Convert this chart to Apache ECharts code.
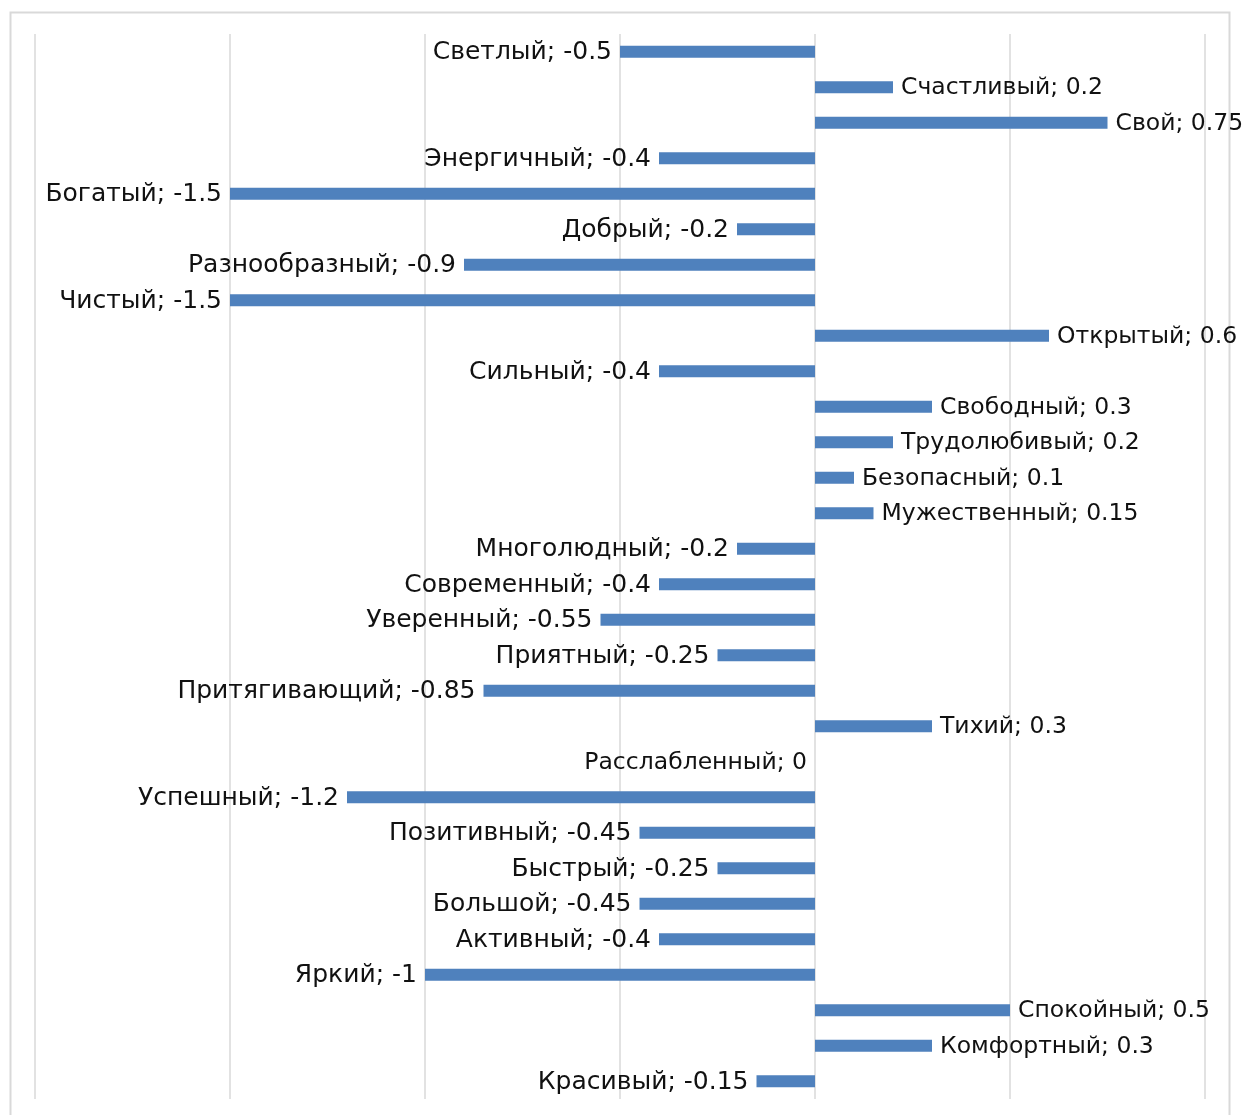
<!DOCTYPE html>
<html>
<head>
<meta charset="utf-8">
<script src="https://cdn.jsdelivr.net/npm/echarts@6/dist/echarts.min.js"></script>
<style>
  html, body { margin: 0; padding: 0; background: #fff; }
  #chart { width: 1244px; height: 1115px; }
</style>
</head>
<body>
<div id="chart"></div>
<script>
// категории сверху вниз
var categories = [
  'Светлый', 'Счастливый', 'Свой', 'Энергичный', 'Богатый', 'Добрый',
  'Разнообразный', 'Чистый', 'Открытый', 'Сильный', 'Свободный',
  'Трудолюбивый', 'Безопасный', 'Мужественный', 'Многолюдный',
  'Современный', 'Уверенный', 'Приятный', 'Притягивающий', 'Тихий',
  'Расслабленный', 'Успешный', 'Позитивный', 'Быстрый', 'Большой',
  'Активный', 'Яркий', 'Спокойный', 'Комфортный', 'Красивый'
]
var values = [
  -0.5, 0.2, 0.75, -0.4, -1.5, -0.2,
  -0.9, -1.5, 0.6, -0.4, 0.3,
  0.2, 0.1, 0.15, -0.2,
  -0.4, -0.55, -0.25, -0.85, 0.3,
  0, -1.2, -0.45, -0.25, -0.45,
  -0.4, -1, 0.5, 0.3, -0.15
]

var chart = echarts.init(document.getElementById('chart'))

var seriesData = values.map(function(v, i) {
  var item = {
    value: v,
    label: { position: v > 0 ? 'right' : 'left' }
  }
  // подписи справа и нулевая чуть мельче
  if (v >= 0) {
    item.label.fontSize = 23.5
  }
  return item
})

var option = {
  animation: false,
  backgroundColor: '#fff',
  graphic: [{
    type: 'rect',
    shape: { x: 10.5, y: 12.5, width: 1219, height: 1110 },
    style: { fill: 'none', stroke: '#d9d9d9', lineWidth: 2 },
    silent: true
  }],
  grid: { left: 35, right: 39, top: 34, bottom: 16 },
  xAxis: {
    type: 'value',
    min: -2,
    max: 1,
    interval: 0.5,
    axisLabel: { show: false },
    axisLine: { show: false },
    axisTick: { show: false },
    splitLine: { lineStyle: { color: '#d9d9d9', width: 1.5 } }
  },
  yAxis: {
    type: 'category',
    inverse: true,
    data: categories,
    axisLabel: { show: false },
    axisLine: { show: false },
    axisTick: { show: false },
    splitLine: { show: false }
  },
  series: [{
    type: 'bar',
    data: seriesData,
    barWidth: 12,
    itemStyle: { color: '#4f81bd' },
    label: {
      show: true,
      distance: 8,
      formatter: '{b}; {c}',
      fontFamily: 'DejaVu Sans',
      fontSize: 25,
      color: '#111',
      offset: [0, 1]
    }
  }]
}
chart.setOption(option)
</script>
</body>
</html>
